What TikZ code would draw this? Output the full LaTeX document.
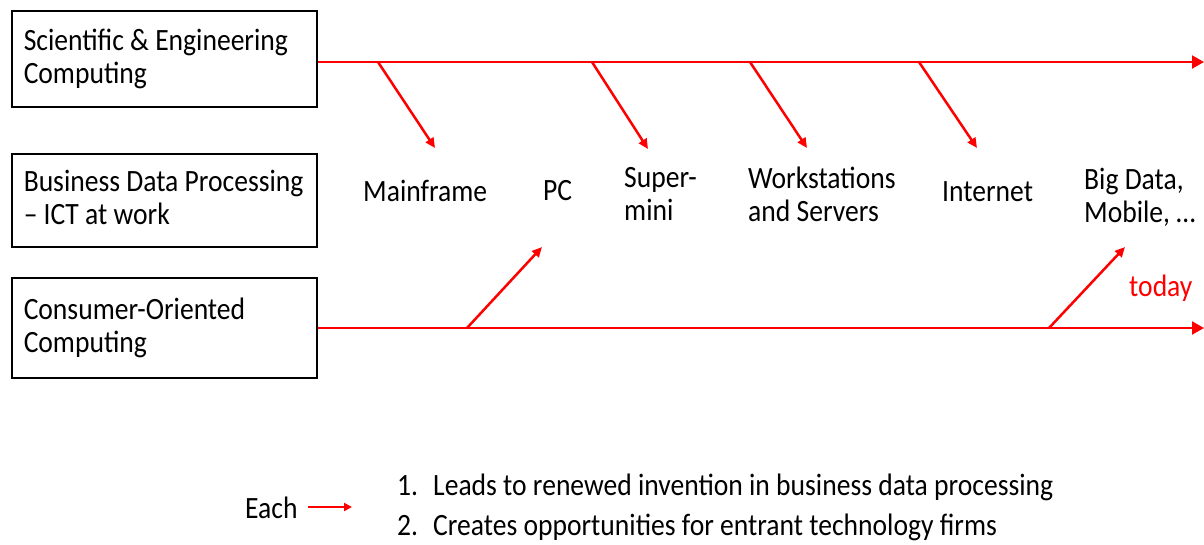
\documentclass[tikz,border=0pt]{standalone}
\usepackage{fontspec}
\setmainfont{Carlito}[FakeStretch=0.89]
\usetikzlibrary{arrows.meta}
\definecolor{ared}{RGB}{255,0,0}
\begin{document}
\begin{tikzpicture}[x=1pt,y=-1pt,
  lbl/.style={font=\fontsize{31}{33}\selectfont, inner sep=0pt, align=left, anchor=west},
  box/.style={draw=black, line width=1.5pt, minimum width=305pt, text width=281pt,
    inner xsep=12pt, inner ysep=0pt, align=flush left, anchor=north west,
    font=\fontsize{31}{33}\selectfont},
  mainline/.style={draw=ared, line width=2pt, -{Triangle[length=12pt,width=13pt]}},
  branch/.style={draw=ared, line width=2.5pt, -{Triangle[length=10pt,width=9pt]}},
  legarrow/.style={draw=ared, line width=2pt, -{Triangle[length=8pt,width=8pt]}}
]
\useasboundingbox (0,0) rectangle (1204,544);

% boxes
\node[box, minimum height=96pt] (box1) at (11,10) {\mbox{Scientific \& Engineering}\\Computing};
\node[box, minimum height=93pt] (box2) at (11,153) {\mbox{Business Data Processing}\\\mbox{– ICT at work}\vphantom{g}};
\node[box, minimum height=100pt] (box3) at (11,277) {\mbox{Consumer-Oriented}\\Computing};

% labels
\node[lbl] (mainframe) at (363,191) {Mainframe};
\node[lbl] (pc) at (543,191) {PC};
\node[lbl] (supermini) at (624,194) {Super-\\mini};
\node[lbl] (workst) at (748,194) {Workstations\\and Servers};
\node[lbl] (internet) at (942,192) {Internet};
\node[lbl] (bigdata) at (1084,197) {Big Data,\\Mobile, …};
\node[lbl, text=ared] (today) at (1129,288) {today};

% coordinates
\coordinate (tend) at (1204,62);
\coordinate (bend) at (1204,328);
\coordinate (b1s) at (378,62);  \coordinate (b1e) at (435,148);
\coordinate (b2s) at (592,62);  \coordinate (b2e) at (648,149);
\coordinate (b3s) at (750,62);  \coordinate (b3e) at (807,148);
\coordinate (b4s) at (919,62);  \coordinate (b4e) at (977,148);
\coordinate (c1s) at (467,328); \coordinate (c1e) at (542,247);
\coordinate (c2s) at (1049,328); \coordinate (c2e) at (1125,247);

% main lines
\draw[mainline] (box1.east |- b1s) -- (tend);
\draw[mainline] (box3.east |- c1s) -- (bend);

% branches
\draw[branch] (b1s) -- (b1e);
\draw[branch] (b2s) -- (b2e);
\draw[branch] (b3s) -- (b3e);
\draw[branch] (b4s) -- (b4e);
\draw[branch] (c1s) -- (c1e);
\draw[branch] (c2s) -- (c2e);

% legend
\node[lbl] (each) at (245,508) {Each};
\coordinate (la) at (308,507);
\coordinate (lb) at (352,507);
\draw[legarrow] (la) -- (lb);
\node[lbl] (item1) at (397,487) {\makebox[36pt][l]{1.}Leads to renewed invention in business data processing};
\node[lbl] (item2) at (397,527) {\makebox[36pt][l]{2.}Creates opportunities for entrant technology firms};
\end{tikzpicture}
\end{document}
